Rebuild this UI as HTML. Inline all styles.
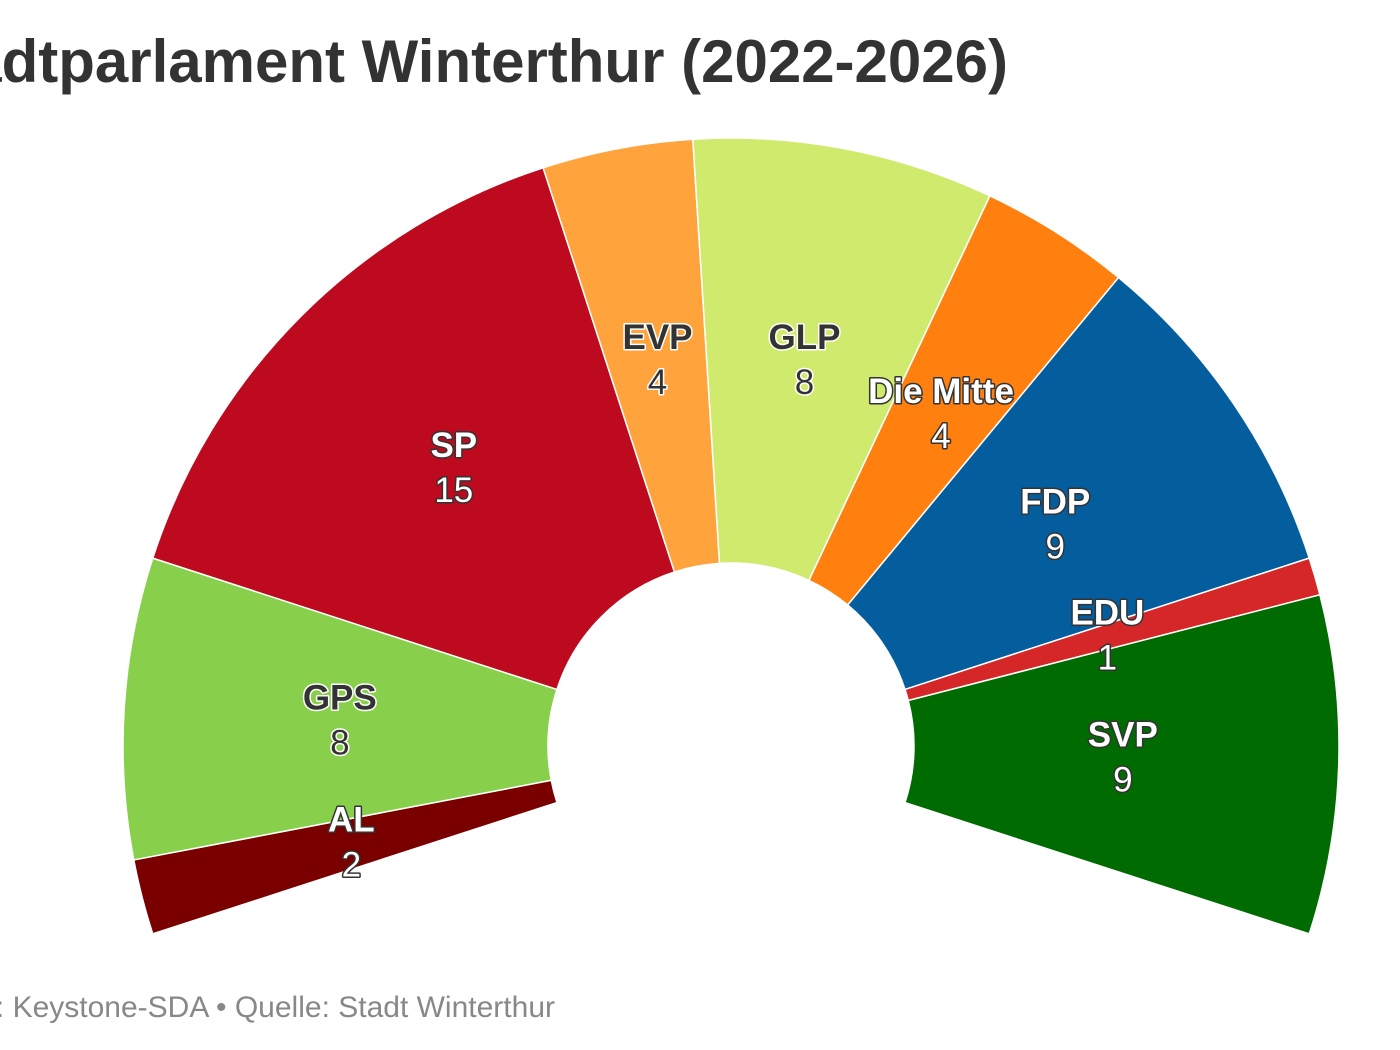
<!DOCTYPE html>
<html><head><meta charset="utf-8"><style>
html,body{margin:0;padding:0;background:#fff;}
svg{display:block;font-family:"Liberation Sans",Arial,sans-serif;}
.lbl{font-size:35px;paint-order:stroke;stroke-width:3px;stroke-linejoin:round;}
</style></head><body>
<svg id="s" width="1400" height="1050" viewBox="0 0 1400 1050">
<text x="1008" y="82" text-anchor="end" font-size="60" font-weight="bold" fill="#333">Stadtparlament Winterthur (2022-2026)</text>
<text x="555" y="1017" text-anchor="end" font-size="30" fill="#888">Grafik: Keystone-SDA • Quelle: Stadt Winterthur</text>
</svg>
<script>
var cx=731,cy=746,ri=183,ro=608;
var parties=[["AL",2,"#7a0000",1],["GPS",8,"#88d04b",0],["SP",15,"#bd0a1e",1],["EVP",4,"#ffa33c",0],["GLP",8,"#d0ea6d",0],["Die Mitte",4,"#ff7f0f",1],["FDP",9,"#045e9e",1],["EDU",1,"#d62728",1],["SVP",9,"#006b00",1]];
var s=document.getElementById("s"),ns="http://www.w3.org/2000/svg";
var a=198,step=3.6,g=document.createElementNS(ns,"g"),lg=document.createElementNS(ns,"g");
function p(r,d){var t=d*Math.PI/180;return (cx+r*Math.cos(t)).toFixed(2)+","+(cy-r*Math.sin(t)).toFixed(2);}
parties.forEach(function(q){
 var a1=a-q[1]*step;
 var large=(a-a1)>180?1:0;
 var d="M"+p(ro,a)+" A"+ro+","+ro+" 0 "+large+" 1 "+p(ro,a1)+" L"+p(ri,a1)+" A"+ri+","+ri+" 0 "+large+" 0 "+p(ri,a)+"Z";
 var path=document.createElementNS(ns,"path");
 path.setAttribute("d",d);path.setAttribute("fill",q[2]);path.setAttribute("stroke","#fff");path.setAttribute("stroke-width","1.5");
 g.appendChild(path);
 var m=(a+a1)/2*Math.PI/180,r=392;
 var x=cx+r*Math.cos(m),y=cy-r*Math.sin(m);
 var fill=q[3]?"#fff":"#333",st=q[3]?"#333":"#fff";
 [[q[0],"bold",y-12],[String(q[1]),"normal",y+33]].forEach(function(t){
  var e=document.createElementNS(ns,"text");
  e.setAttribute("x",x.toFixed(1));e.setAttribute("y",t[2].toFixed(1));
  e.setAttribute("text-anchor","middle");e.setAttribute("class","lbl");
  e.setAttribute("font-weight",t[1]);e.setAttribute("fill",fill);e.setAttribute("stroke",st);
  e.textContent=t[0];lg.appendChild(e);
 });
 a=a1;
});
s.appendChild(g);s.appendChild(lg);
</script>
</body></html>
